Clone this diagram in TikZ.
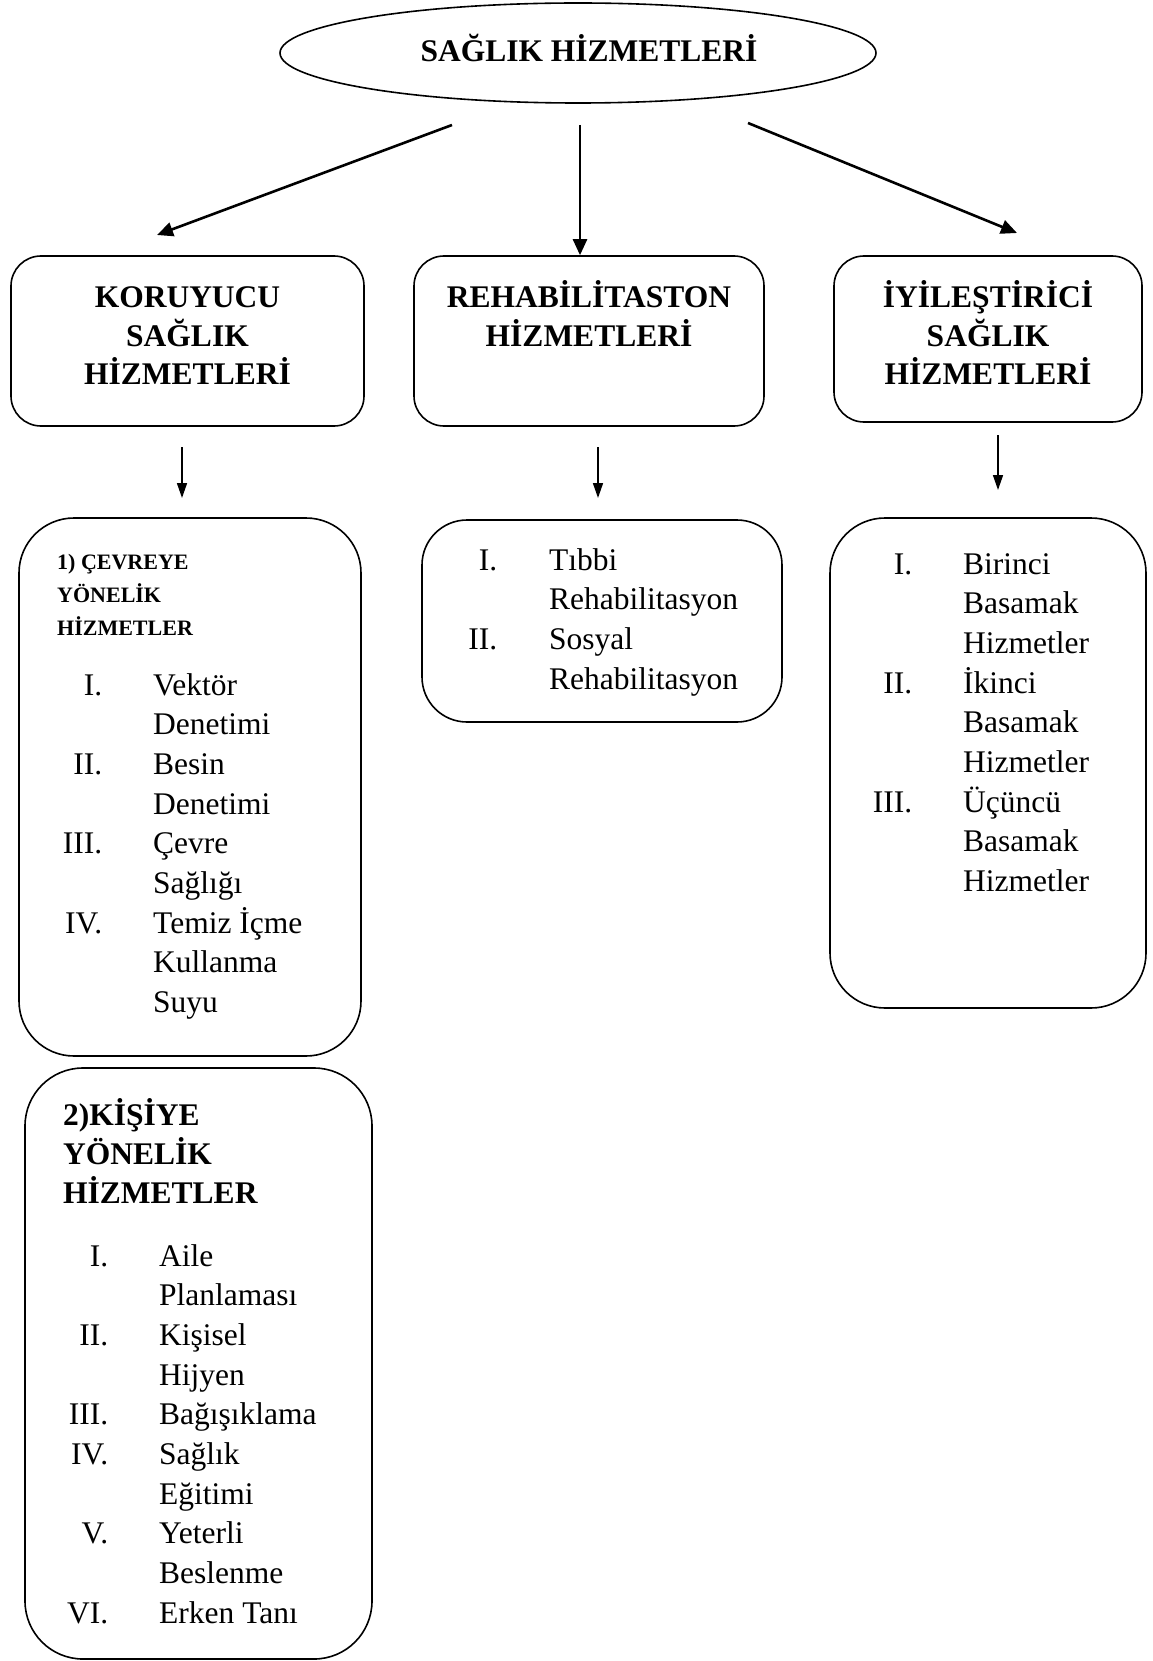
\documentclass[tikz,border=0pt]{standalone}
\usepackage{fontspec}
\setmainfont{Liberation Serif}
\usetikzlibrary{arrows.meta,shapes.geometric}
\newcommand\CStack[2]{\vtop{\baselineskip=#1\lineskiplimit=-\maxdimen\lineskip=0pt\halign{\hfil##\hfil\cr#2\crcr}}}
\newcommand\LStack[2]{\vtop{\baselineskip=#1\lineskiplimit=-\maxdimen\lineskip=0pt\halign{##\hfil\cr#2\crcr}}}
\newcommand\NumList[2]{\vtop{\baselineskip=39.7pt\lineskiplimit=-\maxdimen\lineskip=0pt\halign{\hbox to 0pt{\hss##}\hskip#1&##\hfil\cr#2\crcr}}}
\newcommand\BigB{\fontsize{31.5}{38.7}\selectfont\bfseries}
\newcommand\BodyF{\fontsize{31.5}{39.7}\selectfont}
\newcommand\SmallB{\fontsize{22}{33}\selectfont\bfseries}
\begin{document}
\begin{tikzpicture}[x=1pt,y=-1pt,
  rbox/.style={draw,line width=1.6pt,inner sep=0pt,rounded corners=#1},
  rbox/.default=30pt,
  txt/.style={inner sep=0pt},
  bigarr/.style={line width=2.6pt,-{Triangle[length=16pt,width=14pt]}},
  smarr/.style={line width=1.6pt,-{Triangle[length=15pt,width=10pt]}}]
\fill[white] (0,0) rectangle (1152,1661);
\useasboundingbox (0,0) rectangle (1152,1661);

% top ellipse
\node[ellipse,draw,line width=1.6pt,minimum width=596pt,minimum height=100pt,inner sep=0pt] (top) at (578,53) {};
\node[txt,anchor=base,font=\BigB] (toptxt) at (589,62) {SAĞLIK HİZMETLERİ};

% second row boxes
\node[rbox=30pt,minimum width=353pt,minimum height=170pt] (kor) at (187.5,341) {};
\node[txt,anchor=base,font=\BigB] (kortxt) at (187.5,307.5) {\CStack{38.7pt}{KORUYUCU\cr SAĞLIK\cr HİZMETLERİ}};

\node[rbox=30pt,minimum width=350pt,minimum height=170pt] (reh) at (589,341) {};
\node[txt,anchor=base,font=\BigB] (rehtxt) at (589,307.5) {\CStack{38.7pt}{REHABİLİTASTON\cr HİZMETLERİ}};

\node[rbox=30pt,minimum width=308pt,minimum height=166pt] (iyi) at (988,339) {};
\node[txt,anchor=base,font=\BigB] (iyitxt) at (988,307.5) {\CStack{38.7pt}{İYİLEŞTİRİCİ\cr SAĞLIK\cr HİZMETLERİ}};

% third row boxes
\node[rbox=55pt,minimum width=342pt,minimum height=538pt] (cev) at (190,787) {};
\node[txt,anchor=base west,font=\SmallB] (cevhd) at (57,569.5) {\LStack{32.9pt}{1) ÇEVREYE\cr YÖNELİK\cr HİZMETLER}};
\node[txt,anchor=base west,font=\BodyF] (cevls) at (102,695) {\NumList{51pt}{I.&Vektör\cr&Denetimi\cr II.&Besin\cr&Denetimi\cr III.&Çevre\cr&Sağlığı\cr IV.&Temiz İçme\cr&Kullanma\cr&Suyu}};

\node[rbox=45pt,minimum width=360pt,minimum height=202pt] (rehb) at (602,621) {};
\node[txt,anchor=base west,font=\BodyF] (rehls) at (497,570) {\NumList{52pt}{I.&Tıbbi\cr&Rehabilitasyon\cr II.&Sosyal\cr&Rehabilitasyon}};

\node[rbox=55pt,minimum width=316pt,minimum height=490pt] (iyib) at (988,763) {};
\node[txt,anchor=base west,font=\BodyF] (iyils) at (912,574) {\NumList{51pt}{I.&Birinci\cr&Basamak\cr&Hizmetler\cr II.&İkinci\cr&Basamak\cr&Hizmetler\cr III.&Üçüncü\cr&Basamak\cr&Hizmetler}};

% fourth box
\node[rbox=58pt,minimum width=347pt,minimum height=591pt] (kis) at (198.5,1363.5) {};
\node[txt,anchor=base west,font=\BigB] (kishd) at (63,1125.5) {\LStack{39.2pt}{2)KİŞİYE\cr YÖNELİK\cr HİZMETLER}};
\node[txt,anchor=base west,font=\BodyF] (kisls) at (108,1266) {\NumList{51pt}{I.&Aile\cr&Planlaması\cr II.&Kişisel\cr&Hijyen\cr III.&Bağışıklama\cr IV.&Sağlık\cr&Eğitimi\cr V.&Yeterli\cr&Beslenme\cr VI.&Erken Tanı}};

% connectors
\coordinate (a1s) at (452,125);
\coordinate (a1e) at (157,235);
\coordinate (a2s) at (580,125);
\coordinate (a3s) at (748,123);
\coordinate (a3e) at (1017,233);
\coordinate (a4s) at (182,447);
\coordinate (a4e) at (182,498);
\coordinate (a5s) at (598,447);
\coordinate (a5e) at (598,498);
\coordinate (a6s) at (998,435);
\coordinate (a6e) at (998,490);
\draw[bigarr] (a1s) -- (a1e);
\draw[bigarr] (a2s) -- (a2s |- reh.north);
\draw[bigarr] (a3s) -- (a3e);
\draw[smarr] (a4s) -- (a4e);
\draw[smarr] (a5s) -- (a5e);
\draw[smarr] (a6s) -- (a6e);
\end{tikzpicture}
\end{document}
